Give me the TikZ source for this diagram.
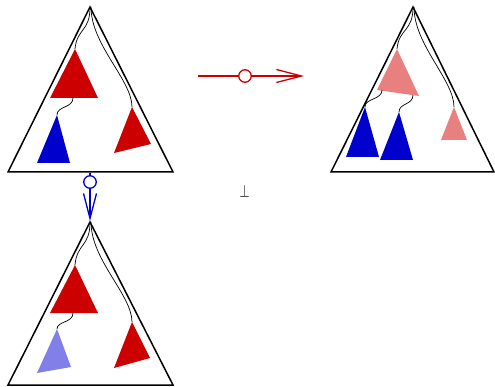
\documentclass[tikz,border=0pt]{standalone}
\usepackage{fontspec}
\newfontfamily\symfont{DejaVu Sans}
\usetikzlibrary{arrows.meta}
\definecolor{dred}{RGB}{204,0,0}
\definecolor{dblue}{RGB}{0,0,204}
\definecolor{pink}{RGB}{232,128,128}
\definecolor{lblue}{RGB}{128,128,232}
\tikzset{
  outer/.style={draw=black,line width=1.5pt,line join=miter},
  link/.style={draw=black,line width=0.7pt},
  opc/.style={circle,draw,line width=1.3pt,fill=white,minimum size=12.5pt,inner sep=0pt},
  arr/.style={line width=1.3pt,-{Straight Barb[length=25pt,width=13pt,line width=1.3pt]}},
}
\begin{document}
\begin{tikzpicture}[x=1pt,y=-1pt]
\useasboundingbox (0,0) rectangle (495,387);
% ---------- tree 1
\draw[outer] (90,7) -- (173,172) -- (8,172) -- cycle;
\fill[dred] (75,49) -- (98,98) -- (50,98) -- cycle;
\fill[dblue] (57,115) -- (70,163) -- (37,163) -- cycle;
\fill[dred] (132,107) -- (151,144) -- (114,153) -- cycle;
\draw[link] (90,7) .. controls (90,32) and (77,28) .. (75,49);
\draw[link] (91,7) .. controls (91,45) and (132,80) .. (132,107);
\draw[link] (73,98) .. controls (73,108) and (57,106) .. (57,115);
% ---------- tree 2
\draw[outer] (413,7) -- (494,172) -- (331,172) -- cycle;
\fill[pink] (397,49) -- (419,96) -- (377,90) -- cycle;
\fill[dblue] (365,107) -- (379,157) -- (346,157) -- cycle;
\fill[dblue] (399,112) -- (413,160) -- (380,160) -- cycle;
\fill[pink] (454,107) -- (467,140) -- (441,140) -- cycle;
\draw[link] (413,7) .. controls (413,32) and (399,28) .. (397,49);
\draw[link] (414,7) .. controls (414,45) and (454,80) .. (454,107);
\draw[link] (382,90) .. controls (382,100) and (365,98) .. (365,107);
\draw[link] (413,95) .. controls (413,105) and (399,103) .. (399,112);
% ---------- tree 3
\draw[outer] (90,222) -- (173,385) -- (8,385) -- cycle;
\fill[dred] (75,265) -- (98,313) -- (50,313) -- cycle;
\fill[lblue] (57,329) -- (71,367) -- (37,373) -- cycle;
\fill[dred] (132,322) -- (150,358) -- (114,368) -- cycle;
\draw[link] (90,222) .. controls (90,247) and (77,243) .. (75,265);
\draw[link] (91,222) .. controls (91,260) and (132,295) .. (132,322);
\draw[link] (73,313) .. controls (73,323) and (57,321) .. (57,329);
% ---------- arrows
\coordinate (r0) at (198,76);
\coordinate (r1) at (304,76);
\node[opc,draw=dred] (rc) at (245,76) {};
\draw[dred,line width=1.3pt] (r0) -- (rc);
\draw[dred,arr] (rc) -- (r1);
\coordinate (b0) at (90,173);
\coordinate (b1) at (90,221);
\node[opc,draw=dblue] (bc) at (90,182) {};
\draw[dblue,line width=1.3pt] (b0) -- (bc);
\draw[dblue,arr] (bc) -- (b1);
\node[text=black!70,font=\symfont\fontsize{12}{14}\selectfont,inner sep=0pt] (bot) at (244.5,191.5) {\scalebox{1}[1.4]{⊥}};
\end{tikzpicture}
\end{document}
